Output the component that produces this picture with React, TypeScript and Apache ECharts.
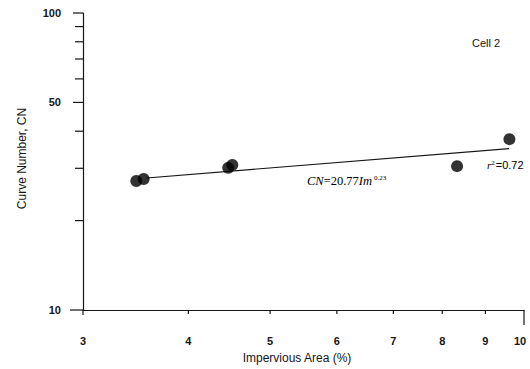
import React, { useEffect, useRef } from "react";
import * as echarts from "echarts";

// Observed catchment data (Cell 2)
const imperviousArea = [3.47, 3.54, 4.46, 4.51, 8.33, 9.61];
const curveNumber = [27.2, 27.6, 30.1, 30.8, 30.5, 37.6];

// Power-law fit CN = a * Im^b
const fitCoef = 20.77;
const fitExp = 0.23;
const fitRange = [3.57, 9.6];
const fitR2 = "0.72";

// Axis tick values
const xTickValues = [3, 4, 5, 6, 7, 8, 9, 10];
const yMajorTicks = [10, 50, 100];
const yMinorTicks = [20, 30, 40, 60, 70, 80, 90];

const INK = "#151515";
const SANS = '"Liberation Sans", Arial, sans-serif';
const SERIF = '"Liberation Serif", "Times New Roman", serif';

export default function App() {
  const ref = useRef<HTMLDivElement>(null);

  useEffect(() => {
    if (!ref.current) return;
    const chart = echarts.init(ref.current, null, { renderer: "svg" });

    const scatterData = imperviousArea.map((x, i) => [x, curveNumber[i]]);
    const fitData = fitRange.map((x) => [x, fitCoef * Math.pow(x, fitExp)]);

    const xTickData = xTickValues.map((v) => [v, 10]);
    const yTickData = [
      ...yMajorTicks.map((v) => [3, v, 1]),
      ...yMinorTicks.map((v) => [3, v, 0]),
    ];

    chart.setOption({
      animation: false,
      backgroundColor: "#ffffff",
      grid: {
        left: 83,
        right: 6,
        top: 13,
        bottom: 59,
        containLabel: false,
        outerBoundsMode: "none",
      },
      xAxis: {
        type: "log",
        logBase: 10,
        min: 3,
        max: 10,
        axisLine: { show: true, lineStyle: { color: INK, width: 1.2 } },
        axisTick: { show: false },
        axisLabel: { show: false },
        splitLine: { show: false },
        name: "Impervious Area (%)",
        nameLocation: "middle",
        nameGap: 42,
        nameTextStyle: {
          fontFamily: SANS,
          fontSize: 12,
          color: INK,
          padding: [0, 13, 0, 0],
        },
      },
      yAxis: {
        type: "log",
        logBase: 10,
        min: 10,
        max: 100,
        axisLine: { show: true, lineStyle: { color: INK, width: 1.2 } },
        axisTick: { show: false },
        axisLabel: { show: false },
        splitLine: { show: false },
        name: "Curve Number, CN",
        nameLocation: "middle",
        nameRotate: 90,
        nameGap: 55,
        nameTextStyle: {
          fontFamily: SANS,
          fontSize: 12,
          color: INK,
          padding: [0, 0, 0, 6],
        },
      },
      series: [
        {
          type: "line",
          data: fitData,
          symbol: "none",
          lineStyle: { color: INK, width: 1.1 },
          silent: true,
          z: 2,
        },
        {
          type: "scatter",
          data: scatterData,
          symbol: "circle",
          symbolSize: 12,
          itemStyle: { color: "#000000" },
          z: 3,
        },
        {
          // x-axis ticks and labels
          type: "custom",
          data: xTickData,
          clip: false,
          silent: true,
          renderItem: (params: any, api: any) => {
            const v = api.value(0);
            const p = api.coord([v, api.value(1)]);
            const len = v === 10 ? 15 : v === 3 ? 5 : 4;
            return {
              type: "group",
              children: [
                {
                  type: "line",
                  shape: { x1: p[0], y1: p[1], x2: p[0], y2: p[1] + len },
                  style: { stroke: INK, lineWidth: 1.2 },
                },
                {
                  type: "text",
                  style: {
                    text: String(v),
                    x: v === 10 ? p[0] - 4 : p[0],
                    y: p[1] + 31,
                    align: "center",
                    verticalAlign: "middle",
                    font: `bold 11px ${SANS}`,
                    fill: INK,
                  },
                },
              ],
            };
          },
        },
        {
          // y-axis ticks and labels
          type: "custom",
          data: yTickData,
          clip: false,
          silent: true,
          renderItem: (params: any, api: any) => {
            const v = api.value(1);
            const major = api.value(2) === 1;
            const p = api.coord([api.value(0), v]);
            const children: any[] = [];
            const len = v === 10 ? 13 : major ? 10 : 8;
            children.push({
              type: "line",
              shape: { x1: p[0] - len, y1: p[1], x2: p[0], y2: p[1] },
              style: { stroke: INK, lineWidth: 1.2 },
            });
            if (major) {
              children.push({
                type: "text",
                style: {
                  text: String(v),
                  x: p[0] - 22,
                  y: p[1],
                  align: "right",
                  verticalAlign: "middle",
                  font: `bold 11px ${SANS}`,
                  fill: INK,
                },
              });
            }
            return { type: "group", children };
          },
        },
      ],
      graphic: [
        {
          type: "text",
          left: 472,
          top: 37,
          style: {
            text: "Cell 2",
            font: `11px ${SANS}`,
            fill: INK,
          },
        },
        {
          type: "text",
          left: 307,
          top: 174,
          style: {
            text: `{i|CN}{n|=20.77}{i|Im}{s|${fitExp.toFixed(2)}}`,
            rich: {
              i: { fontFamily: SERIF, fontStyle: "italic", fontSize: 12.5, color: INK },
              n: { fontFamily: SERIF, fontSize: 12.5, color: INK },
              s: { fontFamily: SERIF, fontSize: 7, color: INK, verticalAlign: "top", padding: [0, 0, 6, 2] },
            },
          },
        },
        {
          type: "text",
          left: 487,
          top: 159,
          style: {
            text: `{i|r}{s|2}{n|=${fitR2}}`,
            rich: {
              i: { fontFamily: SERIF, fontStyle: "italic", fontSize: 11, color: INK },
              s: { fontFamily: SERIF, fontSize: 7, color: INK, verticalAlign: "top", padding: [0, 1, 5, 0] },
              n: { fontFamily: SANS, fontSize: 11, color: INK },
            },
          },
        },
      ],
    });

    return () => chart.dispose();
  }, []);

  return (
    <div
      ref={ref}
      style={{ position: "fixed", left: 0, top: 0, width: 530, height: 369 }}
    />
  );
}
